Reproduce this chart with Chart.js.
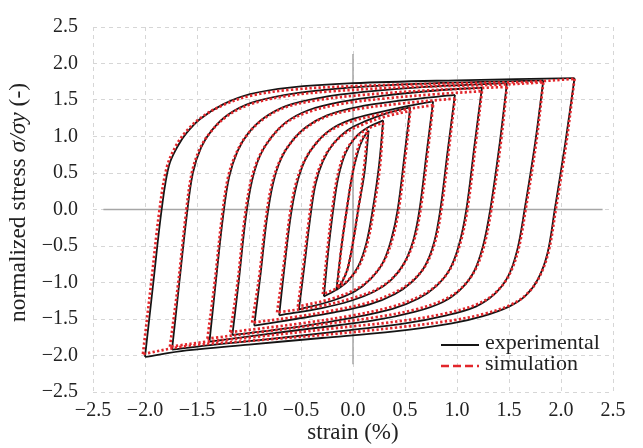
<!DOCTYPE html>
<html>
<head>
<meta charset="utf-8">
<script src="https://cdn.jsdelivr.net/npm/chart.js@4.4.1/dist/chart.umd.min.js"></script>
<style>
  html, body { margin: 0; padding: 0; background: #fff; }
  #wrap { width: 643px; height: 448px; }
</style>
</head>
<body>
<div id="wrap"><canvas id="myChart"></canvas></div>
<script>
// strain (%) / normalized stress pairs
// experimental, one array per branch: up = from min corner to max corner, down = back
const expUp1 = [[-0.16, -1.10], [-0.11, -0.5], [-0.06, 0.0], [-0.01, 0.45], [0.05, 0.8], [0.10, 0.98], [0.15, 1.08]];
const expDown1 = [[0.15, 1.08], [0.11, 0.5], [0.05, 0.0], [0.0, -0.45], [-0.05, -0.8], [-0.10, -0.98], [-0.16, -1.10]];
const expUp2 = [[-0.28, -1.19], [-0.24, -0.6], [-0.19, 0.0], [-0.14, 0.45], [-0.07, 0.78], [0.03, 1.0], [0.15, 1.13], [0.29, 1.22]];
const expDown2 = [[0.29, 1.22], [0.25, 0.6], [0.19, 0.0], [0.13, -0.45], [0.05, -0.78], [-0.05, -0.98], [-0.16, -1.1], [-0.28, -1.19]];
const expUp3 = [[-0.52, -1.37], [-0.47, -0.8], [-0.41, -0.1], [-0.36, 0.35], [-0.29, 0.66], [-0.19, 0.9], [-0.06, 1.08], [0.12, 1.21], [0.33, 1.32], [0.55, 1.40]];
const expDown3 = [[0.55, 1.40], [0.50, 0.8], [0.43, 0.0], [0.37, -0.4], [0.29, -0.72], [0.17, -0.95], [0.02, -1.12], [-0.2, -1.25], [-0.52, -1.37]];
const expUp4 = [[-0.71, -1.45], [-0.66, -0.8], [-0.60, -0.1], [-0.54, 0.35], [-0.46, 0.68], [-0.36, 0.9], [-0.22, 1.09], [-0.02, 1.23], [0.25, 1.33], [0.5, 1.41], [0.77, 1.48]];
const expDown4 = [[0.77, 1.48], [0.71, 0.8], [0.64, 0.0], [0.58, -0.42], [0.49, -0.74], [0.37, -0.96], [0.21, -1.12], [-0.02, -1.25], [-0.3, -1.35], [-0.71, -1.45]];
const expUp5 = [[-0.95, -1.59], [-0.89, -0.9], [-0.83, -0.15], [-0.77, 0.35], [-0.69, 0.7], [-0.59, 0.93], [-0.45, 1.13], [-0.25, 1.29], [0.03, 1.40], [0.45, 1.49], [0.98, 1.57]];
const expDown5 = [[0.98, 1.57], [0.91, 0.8], [0.84, 0.0], [0.78, -0.45], [0.69, -0.78], [0.56, -1.0], [0.40, -1.16], [0.16, -1.30], [-0.18, -1.41], [-0.55, -1.5], [-0.95, -1.59]];
const expUp6 = [[-1.16, -1.72], [-1.10, -1.0], [-1.03, -0.1], [-0.97, 0.4], [-0.89, 0.75], [-0.79, 0.98], [-0.64, 1.2], [-0.43, 1.36], [-0.13, 1.47], [0.3, 1.56], [0.8, 1.63], [1.24, 1.67]];
const expDown6 = [[1.24, 1.67], [1.17, 0.9], [1.09, 0.0], [1.02, -0.48], [0.93, -0.82], [0.80, -1.05], [0.63, -1.22], [0.38, -1.36], [0.0, -1.48], [-0.5, -1.6], [-1.16, -1.72]];
const expUp7 = [[-1.38, -1.81], [-1.32, -1.0], [-1.25, -0.1], [-1.19, 0.45], [-1.11, 0.8], [-1.01, 1.04], [-0.86, 1.25], [-0.64, 1.42], [-0.32, 1.53], [0.1, 1.61], [0.7, 1.68], [1.48, 1.73]];
const expDown7 = [[1.48, 1.73], [1.41, 0.9], [1.32, 0.0], [1.25, -0.5], [1.16, -0.86], [1.03, -1.1], [0.86, -1.27], [0.6, -1.40], [0.2, -1.52], [-0.4, -1.63], [-0.9, -1.72], [-1.38, -1.81]];
const expUp8 = [[-1.74, -1.92], [-1.67, -1.0], [-1.60, -0.1], [-1.54, 0.5], [-1.46, 0.85], [-1.36, 1.08], [-1.20, 1.30], [-0.98, 1.46], [-0.65, 1.57], [-0.2, 1.65], [0.6, 1.72], [1.83, 1.77]];
const expDown8 = [[1.83, 1.77], [1.75, 0.9], [1.65, 0.0], [1.58, -0.55], [1.49, -0.92], [1.36, -1.16], [1.18, -1.33], [0.9, -1.45], [0.5, -1.56], [-0.2, -1.68], [-0.9, -1.79], [-1.4, -1.86], [-1.74, -1.92]];
const expUp9 = [[-2.0, -2.02], [-1.92, -1.0], [-1.84, 0.0], [-1.77, 0.6], [-1.68, 0.88], [-1.60, 1.05], [-1.47, 1.24], [-1.25, 1.44], [-0.99, 1.58], [-0.61, 1.67], [0, 1.73], [1.0, 1.77], [2.13, 1.80]];
const expDown9 = [[2.13, 1.80], [2.04, 0.9], [1.94, 0.0], [1.87, -0.6], [1.78, -0.95], [1.66, -1.18], [1.50, -1.33], [1.25, -1.46], [0.95, -1.56], [0.4, -1.67], [-0.3, -1.76], [-1.0, -1.85], [-1.6, -1.93], [-2.0, -2.02]];

// simulation
const simUp1 = [[-0.15, -1.06], [-0.11, -0.5], [-0.06, 0.0], [-0.01, 0.45], [0.04, 0.8], [0.09, 0.98], [0.14, 1.06]];
const simDown1 = [[0.14, 1.06], [0.10, 0.5], [0.05, 0.0], [0.0, -0.45], [-0.05, -0.8], [-0.10, -0.97], [-0.15, -1.06]];
const simUp2 = [[-0.29, -1.16], [-0.25, -0.6], [-0.20, 0.0], [-0.15, 0.45], [-0.08, 0.77], [0.02, 0.98], [0.15, 1.11], [0.29, 1.19]];
const simDown2 = [[0.29, 1.19], [0.26, 0.6], [0.20, 0.0], [0.14, -0.45], [0.06, -0.77], [-0.04, -0.96], [-0.16, -1.08], [-0.29, -1.16]];
const simUp3 = [[-0.53, -1.33], [-0.48, -0.8], [-0.42, -0.1], [-0.37, 0.35], [-0.30, 0.65], [-0.20, 0.88], [-0.07, 1.05], [0.12, 1.18], [0.33, 1.28], [0.55, 1.35]];
const simDown3 = [[0.55, 1.35], [0.51, 0.8], [0.44, 0.0], [0.38, -0.4], [0.30, -0.7], [0.18, -0.93], [0.03, -1.09], [-0.2, -1.22], [-0.53, -1.33]];
const simUp4 = [[-0.73, -1.41], [-0.67, -0.8], [-0.61, -0.1], [-0.55, 0.35], [-0.47, 0.66], [-0.37, 0.88], [-0.23, 1.07], [-0.03, 1.2], [0.25, 1.3], [0.5, 1.37], [0.77, 1.43]];
const simDown4 = [[0.77, 1.43], [0.72, 0.8], [0.65, 0.0], [0.59, -0.41], [0.50, -0.72], [0.38, -0.94], [0.22, -1.1], [-0.02, -1.22], [-0.3, -1.32], [-0.73, -1.41]];
const simUp5 = [[-0.97, -1.55], [-0.90, -0.9], [-0.84, -0.15], [-0.78, 0.35], [-0.70, 0.68], [-0.60, 0.91], [-0.46, 1.11], [-0.26, 1.27], [0.02, 1.37], [0.45, 1.45], [0.98, 1.52]];
const simDown5 = [[0.98, 1.52], [0.92, 0.8], [0.85, 0.0], [0.79, -0.44], [0.70, -0.76], [0.57, -0.98], [0.41, -1.13], [0.16, -1.27], [-0.18, -1.38], [-0.55, -1.47], [-0.97, -1.55]];
const simUp6 = [[-1.18, -1.68], [-1.11, -1.0], [-1.04, -0.1], [-0.98, 0.4], [-0.90, 0.73], [-0.80, 0.96], [-0.65, 1.18], [-0.44, 1.33], [-0.14, 1.44], [0.3, 1.52], [0.8, 1.58], [1.24, 1.62]];
const simDown6 = [[1.24, 1.62], [1.18, 0.9], [1.10, 0.0], [1.03, -0.47], [0.94, -0.8], [0.81, -1.03], [0.64, -1.19], [0.38, -1.33], [0.0, -1.45], [-0.5, -1.56], [-1.18, -1.68]];
const simUp7 = [[-1.40, -1.77], [-1.33, -1.0], [-1.26, -0.1], [-1.20, 0.45], [-1.12, 0.78], [-1.02, 1.02], [-0.87, 1.23], [-0.65, 1.40], [-0.33, 1.5], [0.1, 1.57], [0.7, 1.63], [1.48, 1.68]];
const simDown7 = [[1.48, 1.68], [1.42, 0.9], [1.33, 0.0], [1.26, -0.5], [1.17, -0.84], [1.04, -1.08], [0.87, -1.24], [0.6, -1.37], [0.2, -1.48], [-0.4, -1.59], [-0.9, -1.68], [-1.40, -1.77]];
const simUp8 = [[-1.76, -1.88], [-1.68, -1.0], [-1.61, -0.1], [-1.55, 0.5], [-1.47, 0.84], [-1.37, 1.06], [-1.21, 1.28], [-0.99, 1.44], [-0.66, 1.55], [-0.2, 1.62], [0.6, 1.68], [1.4, 1.71], [1.83, 1.74]];
const simDown8 = [[1.83, 1.74], [1.76, 0.9], [1.66, 0.0], [1.59, -0.55], [1.50, -0.9], [1.37, -1.14], [1.19, -1.3], [0.9, -1.42], [0.5, -1.52], [-0.2, -1.63], [-0.9, -1.74], [-1.4, -1.81], [-1.76, -1.88]];
const simUp9 = [[-2.02, -1.98], [-1.94, -1.0], [-1.86, 0.0], [-1.79, 0.58], [-1.70, 0.88], [-1.61, 1.06], [-1.47, 1.25], [-1.25, 1.43], [-0.98, 1.56], [-0.6, 1.64], [0, 1.69], [1.0, 1.73], [1.7, 1.75], [2.13, 1.79]];
const simDown9 = [[2.13, 1.79], [2.05, 0.9], [1.95, 0.0], [1.88, -0.58], [1.79, -0.93], [1.67, -1.16], [1.51, -1.31], [1.26, -1.43], [0.95, -1.52], [0.4, -1.62], [-0.3, -1.72], [-1.0, -1.8], [-1.6, -1.87], [-2.02, -1.98]];

// grey zero axes inside the plot
const zeroLineH = [[-2.4, 0], [2.4, 0]];
const zeroLineV = [[0, 2.13], [0, -2.12]];

const legendLabels = ["experimental", "simulation"];
const xTitle = "strain (%)";
const yTitleParts = ["normalized stress ", "σ/σy", " (-)"];

const expBranches = [expUp1, expDown1, expUp2, expDown2, expUp3, expDown3, expUp4, expDown4, expUp5, expDown5,
    expUp6, expDown6, expUp7, expDown7, expUp8, expDown8, expUp9, expDown9];
const simBranches = [simUp1, simDown1, simUp2, simDown2, simUp3, simDown3, simUp4, simDown4, simUp5, simDown5,
    simUp6, simDown6, simUp7, simDown7, simUp8, simDown8, simUp9, simDown9];

const black = "#141414";
const red = "#e2262b";
const serif = "'Liberation Serif', 'Times New Roman', serif";

const datasets = [];
simBranches.forEach(d => datasets.push({
    data: d, borderColor: red, borderWidth: 2.7, borderDash: [2.3, 2.3], tension: 0.35, order: 1
}));
expBranches.forEach(d => datasets.push({
    data: d, borderColor: black, borderWidth: 1.8, tension: 0.35, order: 2
}));
[zeroLineH, zeroLineV].forEach(d => datasets.push({
    data: d, borderColor: "#a6a6a6", borderWidth: 1.5, tension: 0, order: 3
}));

// legend sits inside the plot, lower right
const insideLegend = {
    id: "insideLegend",
    afterDatasetsDraw(chart) {
        const { ctx, chartArea } = chart;
        const x0 = chartArea.right - 172;
        const rows = [
            { y: chartArea.bottom - 47, color: black, dash: [], width: 2 },
            { y: chartArea.bottom - 26, color: red, dash: [8, 4], width: 2.4 }
        ];
        ctx.save();
        rows.forEach((r, i) => {
            ctx.beginPath();
            ctx.setLineDash(r.dash);
            ctx.strokeStyle = r.color;
            ctx.lineWidth = r.width;
            ctx.moveTo(x0, r.y);
            ctx.lineTo(x0 + 38, r.y);
            ctx.stroke();
            ctx.setLineDash([]);
            ctx.fillStyle = "#222";
            ctx.font = "22px " + serif;
            ctx.textBaseline = "middle";
            ctx.fillText(legendLabels[i], x0 + 44, r.y - 2);
        });
        ctx.restore();
    }
};

// y title with the italic part
const yTitle = {
    id: "yTitle",
    afterDraw(chart) {
        const { ctx, chartArea } = chart;
        const size = "23.5px ";
        const fonts = [size + serif, "italic " + size + serif, size + serif];
        ctx.save();
        ctx.translate(19, (chartArea.top + chartArea.bottom) / 2 - 7);
        ctx.rotate(-Math.PI / 2);
        ctx.fillStyle = "#222";
        ctx.textBaseline = "middle";
        let total = 0;
        const widths = yTitleParts.map((t, i) => { ctx.font = fonts[i]; const w = ctx.measureText(t).width; total += w; return w; });
        let x = -total / 2;
        yTitleParts.forEach((t, i) => {
            ctx.font = fonts[i];
            ctx.fillText(t, x, 0);
            x += widths[i];
        });
        ctx.restore();
    }
};

const fmt = v => v.toFixed(1).replace("-", "\u2212");

new Chart(document.getElementById("myChart"), {
    type: "scatter",
    data: { datasets },
    plugins: [insideLegend, yTitle],
    options: {
        responsive: true,
        maintainAspectRatio: false,
        animation: false,
        showLine: true,
        elements: { point: { radius: 0, hoverRadius: 0 }, line: { fill: false } },
        layout: { padding: { top: 15, right: 30, left: 0, bottom: 0 } },
        plugins: { legend: { display: false }, tooltip: { enabled: false } },
        scales: {
            x: {
                type: "linear",
                min: -2.5,
                max: 2.5,
                afterFit: s => { s.height = 56; },
                grid: { color: "#d6d6d6", lineWidth: 1, drawTicks: false },
                border: { display: false, dash: [4, 4] },
                ticks: { stepSize: 0.5, padding: 7, color: "#222", font: { family: serif, size: 20 }, callback: fmt, maxRotation: 0 },
                title: { display: true, text: xTitle, color: "#222", font: { family: serif, size: 23 }, padding: { top: 0, bottom: 1 } }
            },
            y: {
                type: "linear",
                min: -2.5,
                max: 2.5,
                afterFit: s => { s.width = 93; },
                grid: { color: "#d6d6d6", lineWidth: 1, drawTicks: false },
                border: { display: false, dash: [4, 4] },
                ticks: { stepSize: 0.5, padding: 15, color: "#222", font: { family: serif, size: 20 }, callback: fmt }
            }
        }
    }
});
</script>
</body>
</html>
